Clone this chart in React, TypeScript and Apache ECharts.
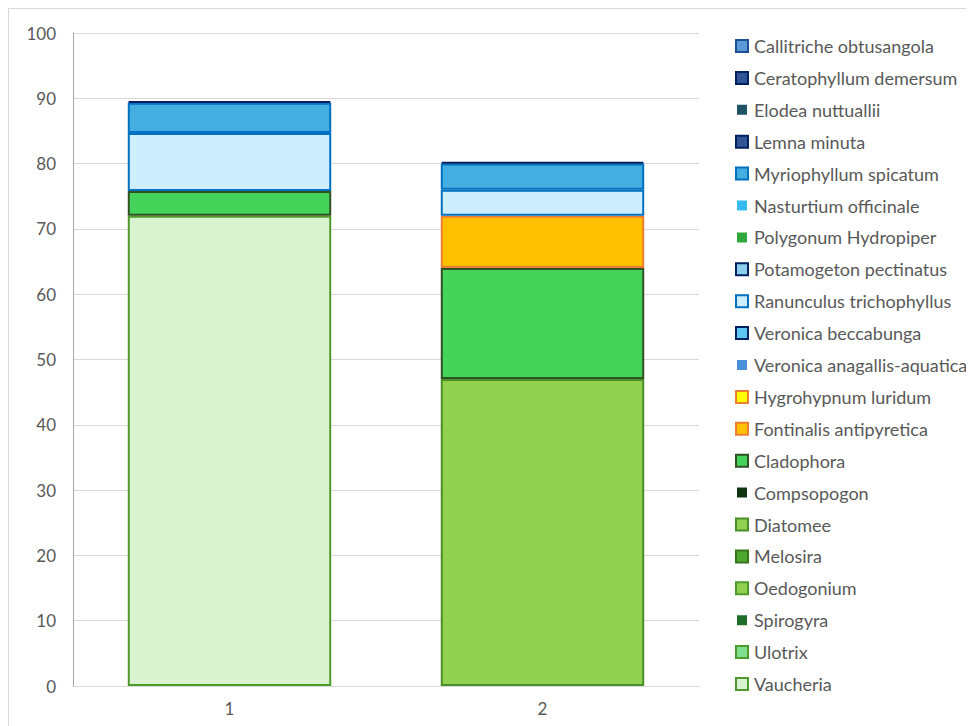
import React, { useEffect, useRef } from "react";
import * as echarts from "echarts";

// Sampling points on the x axis
const categories = ["1", "2"];

// Taxa from the bottom of each stack to the top; each pair is [point 1, point 2] cover (%)
const vaucheria = [72, 0];
const ulotrix = [0, 0];
const spirogyra = [0, 0];
const oedogonium = [0, 0];
const melosira = [0, 0];
const diatomee = [0, 47];
const compsopogon = [0, 0];
const cladophora = [3.8, 17];
const fontinalis = [0, 8];
const hygrohypnum = [0, 0];
const veronicaAnagallis = [0, 0];
const veronicaBeccabunga = [0, 0];
const ranunculus = [8.9, 4];
const potamogeton = [0, 0];
const polygonum = [0, 0];
const nasturtium = [0, 0];
const myriophyllum = [4.6, 4];
const lemna = [0.25, 0.25];
const elodea = [0, 0];
const ceratophyllum = [0, 0];
const callitriche = [0, 0];

const yTicks = [0, 10, 20, 30, 40, 50, 60, 70, 80, 90, 100];

type Taxon = { name: string; values: number[]; fill: string; border?: string };

const taxa: Taxon[] = [
  { name: "Vaucheria", values: vaucheria, fill: "#d9f2d0", border: "#4e9a2c" },
  { name: "Ulotrix", values: ulotrix, fill: "#80e08e", border: "#4e9a2c" },
  { name: "Spirogyra", values: spirogyra, fill: "#1e6e2a" },
  { name: "Oedogonium", values: oedogonium, fill: "#92d050", border: "#4e9a2c" },
  { name: "Melosira", values: melosira, fill: "#4ea72e", border: "#38761d" },
  { name: "Diatomee", values: diatomee, fill: "#92d050", border: "#4a8f2a" },
  { name: "Compsopogon", values: compsopogon, fill: "#0d3311" },
  { name: "Cladophora", values: cladophora, fill: "#46d35a", border: "#2e5221" },
  { name: "Fontinalis antipyretica", values: fontinalis, fill: "#ffc000", border: "#ed7d31" },
  { name: "Hygrohypnum luridum", values: hygrohypnum, fill: "#ffff00", border: "#ed7d31" },
  { name: "Veronica anagallis-aquatica", values: veronicaAnagallis, fill: "#4a90d9" },
  { name: "Veronica beccabunga", values: veronicaBeccabunga, fill: "#5bc6f0", border: "#002060" },
  { name: "Ranunculus trichophyllus", values: ranunculus, fill: "#cdeefd", border: "#0070c0" },
  { name: "Potamogeton pectinatus", values: potamogeton, fill: "#8ccfee", border: "#002060" },
  { name: "Polygonum Hydropiper", values: polygonum, fill: "#2ea83a" },
  { name: "Nasturtium officinale", values: nasturtium, fill: "#35bbee" },
  { name: "Myriophyllum spicatum", values: myriophyllum, fill: "#45aee0", border: "#0070c0" },
  { name: "Lemna minuta", values: lemna, fill: "#2f5597", border: "#002060" },
  { name: "Elodea nuttuallii", values: elodea, fill: "#1e5367" },
  { name: "Ceratophyllum demersum", values: ceratophyllum, fill: "#2f5597", border: "#002060" },
  { name: "Callitriche obtusangola", values: callitriche, fill: "#5b9bd5", border: "#1f4e99" },
];

const FONT = "Lato, 'Open Sans', sans-serif";
const TEXT = "#595959";

export default function App() {
  const ref = useRef<HTMLDivElement>(null);

  useEffect(() => {
    if (!ref.current) return;
    const chart = echarts.init(ref.current, undefined, { renderer: "svg" });

    const series = taxa.map((t) => ({
      name: t.name,
      type: "bar",
      stack: "cover",
      barCategoryGap: "35%",
      data: t.values.map((v) => (v === 0 ? null : v)),
      itemStyle: {
        color: t.fill,
        borderColor: t.border ?? t.fill,
        borderWidth: t.border ? 2 : 0,
      },
      emphasis: { disabled: true },
    }));

    chart.setOption({
      animation: false,
      backgroundColor: "#ffffff",
      textStyle: { fontFamily: FONT },
      grid: { left: 64, top: 24, width: 626, height: 653, containLabel: false },
      legend: {
        orient: "vertical",
        left: 721,
        top: 23,
        itemWidth: 12,
        itemHeight: 12,
        itemGap: 13.9,
        icon: "rect",
        selectedMode: false,
        data: taxa
          .slice()
          .reverse()
          .map((t) => ({
            name: t.name,
            itemStyle: t.border
              ? undefined
              : { borderColor: "#ffffff", borderWidth: 2 },
          })),
        textStyle: { color: TEXT, fontSize: 18, fontFamily: FONT, lineHeight: 18, padding: [0, 0, 0, 1] },
      },
      xAxis: {
        type: "category",
        data: categories,
        axisLine: { lineStyle: { color: "#d9d9d9", width: 1 } },
        axisTick: { show: false },
        axisLabel: { color: TEXT, fontSize: 17, margin: 14, fontFamily: FONT },
      },
      yAxis: {
        type: "value",
        min: yTicks[0],
        max: yTicks[yTicks.length - 1],
        interval: 10,
        axisLine: { show: true, lineStyle: { color: "#a6a6a6", width: 1 } },
        axisTick: { show: false },
        splitLine: { lineStyle: { color: "#d9d9d9", width: 1 } },
        axisLabel: { color: TEXT, fontSize: 17, margin: 17, fontFamily: FONT },
      },
      series,
    });

    return () => chart.dispose();
  }, []);

  return (
    <div
      ref={ref}
      style={{
        width: 966,
        height: 718,
        boxSizing: "border-box",
        border: "1px solid #d9d9d9",
        borderRight: "none",
        borderBottom: "none",
      }}
    />
  );
}
